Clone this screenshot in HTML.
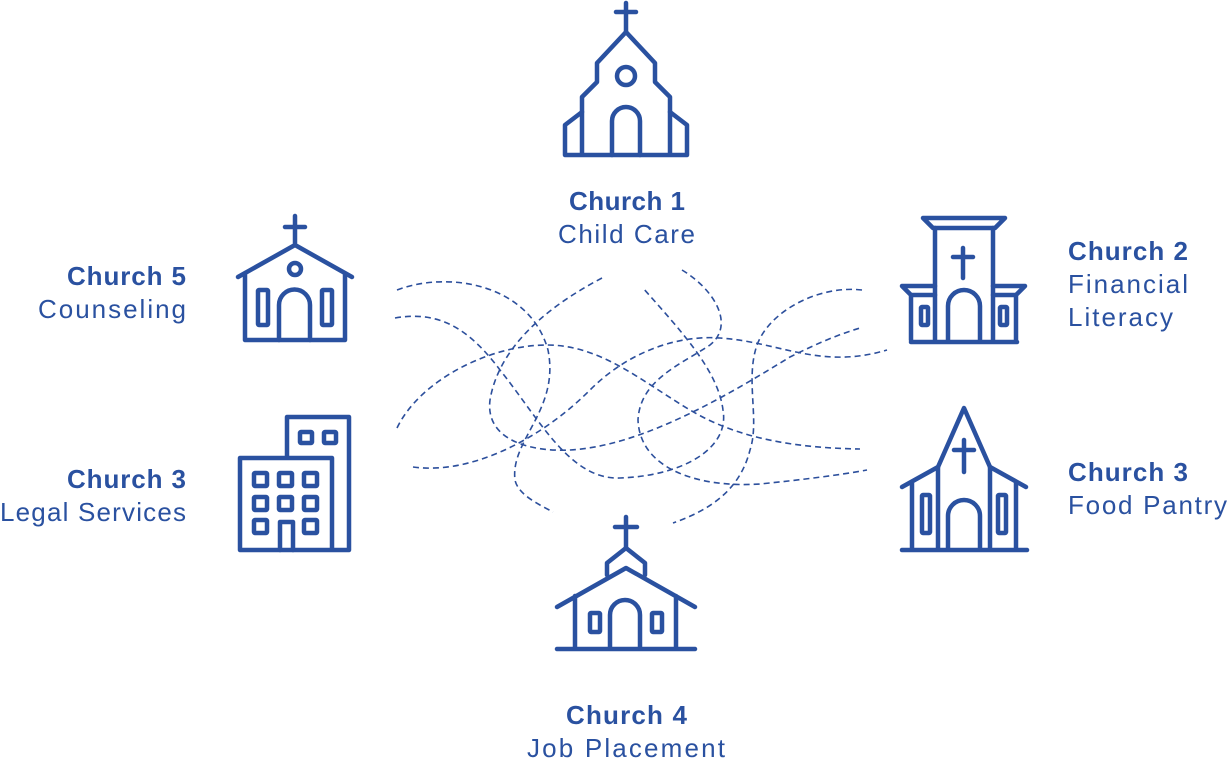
<!DOCTYPE html>
<html><head><meta charset="utf-8"><style>
html,body{margin:0;padding:0;background:#fff;}
svg{display:block}
text{font-family:"Liberation Sans",sans-serif;font-size:26px;fill:#2a51a0}
.b{font-weight:bold}
</style></head><body>
<svg width="1228" height="758" viewBox="0 0 1228 758" xmlns="http://www.w3.org/2000/svg">
<g fill="none" stroke="#2c4f9c" stroke-width="1.6" stroke-dasharray="6 4">
<path d="M397,290 C450,270 530,285 548,350 C560,410 510,440 515,480 C518,495 540,505 553,512"/>
<path d="M395,318 C440,310 470,330 500,370 C540,420 570,480 620,478 C680,476 730,450 723,410 C718,370 680,330 643,288"/>
<path d="M602,278 C560,300 500,340 490,400 C485,440 530,452 570,450 C640,446 720,400 790,357 C820,342 840,334 860,328"/>
<path d="M397,428 C420,380 490,345 547,345 C600,345 640,380 690,410 C740,440 800,448 860,449"/>
<path d="M413,467 C470,475 540,440 590,390 C630,350 680,335 720,338 C780,342 820,370 887,350"/>
<path d="M682,270 C715,290 735,325 710,345 C680,365 640,380 638,420 C640,470 700,488 760,484 C800,480 840,475 867,470"/>
<path d="M862,290 C820,285 770,310 757,345 C745,380 760,420 750,450 C740,490 710,510 673,523"/>
</g>
<g fill="none" stroke="#2a51a0" stroke-width="4.5" stroke-linecap="round" stroke-linejoin="round">
<path d="M626,3 V32 M616,12 H636"/>
<path d="M582,153 V97 L597,82 V63 L626,32 L655,63 V82 L670,97 V153"/>
<path d="M582,112 L565,125 V155 M670,112 L687,125 V155 M565,155 H687"/>
<circle cx="626" cy="76" r="9"/>
<path d="M612,155 V121 A14,14 0 0 1 640,121 V155"/>
<path d="M923,218 H1005 L995,228 H933 Z"/>
<path d="M935,228 V340 M993,228 V340"/>
<path d="M963,248 V278 M953,257 H973"/>
<path d="M935,286 H902 L911,295 V340 M993,286 H1025 L1016,295 V340 M911,295 H935 M993,295 H1016"/>
<path d="M911,342 H1017"/>
<rect x="921" y="307" width="7" height="18" rx="1"/>
<rect x="1000" y="307" width="7" height="18" rx="1"/>
<path d="M948,340 V306 A16,16 0 0 1 980,306 V340"/>
<path d="M938,548 V467 L964,408 L990,467 V548"/>
<path d="M938,467 L902,487 M990,467 L1026,487 M912,482 V548 M1016,482 V548"/>
<path d="M902,550 H1027"/>
<path d="M964,440 V472 M954,450 H974"/>
<rect x="922" y="495" width="8" height="38" rx="1"/>
<rect x="998" y="495" width="8" height="38" rx="1"/>
<path d="M948,548 V516 A16,16 0 0 1 980,516 V548"/>
<path d="M295,216 V243 M285,227 H305"/>
<path d="M238,277 L295,245 L352,277 M245,273 V340 M345,273 V340 M245,340 H345"/>
<circle cx="295" cy="269" r="6"/>
<rect x="258" y="290" width="10" height="35" rx="1"/>
<rect x="322" y="290" width="10" height="35" rx="1"/>
<path d="M279,340 V305 A15.5,15.5 0 0 1 310,305 V340"/>
<path d="M287,458 V417 H349 V550 H240 V458 H332 V550"/>
<rect x="300" y="432" width="12" height="11" rx="1"/>
<rect x="324" y="432" width="12" height="11" rx="1"/>
<rect x="254" y="473" width="13" height="13" rx="1"/>
<rect x="279" y="473" width="13" height="13" rx="1"/>
<rect x="304" y="473" width="13" height="13" rx="1"/>
<rect x="254" y="497" width="13" height="13" rx="1"/>
<rect x="279" y="497" width="13" height="13" rx="1"/>
<rect x="304" y="497" width="13" height="13" rx="1"/>
<rect x="254" y="520" width="13" height="13" rx="1"/>
<rect x="304" y="520" width="13" height="13" rx="1"/>
<path d="M280,550 V522 H293 V550"/>
<path d="M626,517 V547 M615,527 H637"/>
<path d="M626,548 L607,563 V575 M626,548 L645,563 V575"/>
<path d="M557,607 L626,568 L695,607 M575,596 V648 M676,596 V648 M557,649 H695"/>
<rect x="590" y="613" width="10" height="19" rx="1"/>
<rect x="652" y="613" width="10" height="19" rx="1"/>
<path d="M610,648 V615 A15,15 0 0 1 640,615 V648"/>
</g>
<text class="b" x="569" y="210" textLength="116">Church 1</text>
<text x="558" y="243" textLength="137">Child Care</text>
<text class="b" x="67" y="285" textLength="119">Church 5</text>
<text x="38" y="318" textLength="148">Counseling</text>
<text class="b" x="67" y="488" textLength="119">Church 3</text>
<text x="0" y="521" textLength="186">Legal Services</text>
<text class="b" x="1068" y="260" textLength="120">Church 2</text>
<text x="1068" y="293" textLength="120">Financial</text>
<text x="1068" y="326" textLength="105">Literacy</text>
<text class="b" x="1068" y="481" textLength="120">Church 3</text>
<text x="1068" y="514" textLength="159">Food Pantry</text>
<text class="b" x="566" y="724" textLength="121">Church 4</text>
<text x="527" y="757" textLength="198">Job Placement</text>
</svg>
</body></html>
